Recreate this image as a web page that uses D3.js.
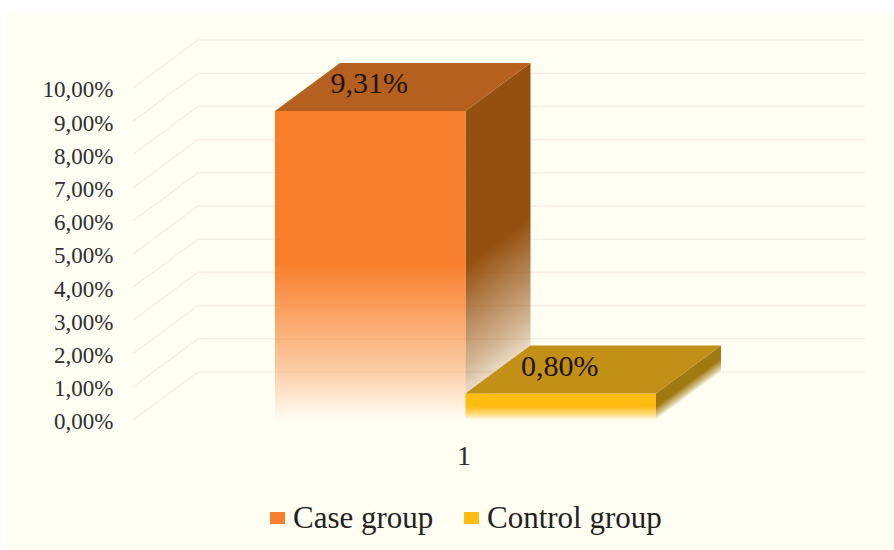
<!DOCTYPE html>
<html>
<head>
<meta charset="utf-8">
<script src="https://cdn.jsdelivr.net/npm/d3@7"></script>
<style>
html, body { margin: 0; padding: 0; background: #fff; }
svg { display: block; font-family: "Liberation Serif", serif; }
</style>
</head>
<body>
<div id="chart"></div>
<script>
var groups = ["Case group", "Control group"];
var percents = [9.31, 0.80];
var valueLabels = ["9,31%", "0,80%"];
var yTicks = [0, 1, 2, 3, 4, 5, 6, 7, 8, 9, 10];
var categoryLabels = ["1"];

var frontColors = ["#f8802d", "#ffbc13"];
var topColors = ["#b5601f", "#c28f17"];
var sideColors = ["#95500f", "#a07a10"];
var gridColors = ["#f4f0e4", "#f8eee2"];

var width = 894, height = 550;
var paper = "#fffef3";
// oblique offset of the back wall from the front plane
var depthX = 65, depthY = -48;

var svg = d3.select("#chart").append("svg")
    .attr("width", width)
    .attr("height", height);

svg.append("rect")
    .attr("x", 5)
    .attr("y", 12)
    .attr("width", width - 5)
    .attr("height", height - 12)
    .attr("fill", paper);

var x = d3.scaleBand().domain(groups).range([275, 656]);
var y = d3.scaleLinear().domain([0, 10]).range([420, 88]);

var defs = svg.append("defs");

// gridlines run along the floor edge and then across the back wall
var grid = svg.append("g");
grid.selectAll("path")
    .data(yTicks)
    .enter().append("path")
    .attr("d", function (d) {
        return d3.line()([[133, y(d)], [133 + depthX, y(d) + depthY], [865, y(d) + depthY]]);
    })
    .attr("fill", "none")
    .attr("stroke", function (d, i) { return gridColors[i % 2]; })
    .attr("stroke-width", 1.6);

// vertical fade: solid over the upper half of the bar, gone at the floor
function fade(id, color, v, xRef, skew) {
    var g = defs.append("linearGradient")
        .attr("id", id)
        .attr("gradientUnits", "userSpaceOnUse")
        .attr("x1", 0).attr("x2", 0)
        .attr("y1", y(v / 2)).attr("y2", y(0));
    if (skew) {
        var k = depthY / depthX;
        g.attr("gradientTransform", "matrix(1," + k + ",0,1,0," + (-k * xRef) + ")");
    }
    g.append("stop").attr("offset", 0).attr("stop-color", color).attr("stop-opacity", 1);
    g.append("stop").attr("offset", 0.65).attr("stop-color", color).attr("stop-opacity", 0.42);
    g.append("stop").attr("offset", 1).attr("stop-color", color).attr("stop-opacity", 0);
}

var bars = svg.selectAll(".bar")
    .data(groups)
    .enter().append("g")
    .attr("class", "bar");

bars.each(function (name, i) {
    var g = d3.select(this);
    var x0 = x(name), x1 = x0 + x.bandwidth();
    var top = y(percents[i]), bottom = y(0);

    fade("front" + i, frontColors[i], percents[i], x0, false);
    fade("side" + i, sideColors[i], percents[i], x1, true);

    g.append("path")
        .attr("d", d3.line()([[x1, top], [x1 + depthX, top + depthY], [x1 + depthX, bottom + depthY], [x1, bottom]]) + "Z")
        .attr("fill", "url(#side" + i + ")");
    g.append("path")
        .attr("d", d3.line()([[x0, top], [x1, top], [x1, bottom], [x0, bottom]]) + "Z")
        .attr("fill", "url(#front" + i + ")");
    g.append("path")
        .attr("d", d3.line()([[x0, top], [x0 + depthX, top + depthY], [x1 + depthX, top + depthY], [x1, top]]) + "Z")
        .attr("fill", topColors[i]);
    g.append("text")
        .attr("x", x0 + x.bandwidth() / 2 - 1)
        .attr("y", top + depthY / 2 + 6.5)
        .attr("text-anchor", "middle")
        .attr("font-size", 30)
        .attr("fill", "#201408")
        .text(valueLabels[i]);
});

var yAxis = d3.axisLeft(y)
    .tickValues(yTicks)
    .tickSize(0)
    .tickPadding(0)
    .tickFormat(function (d) { return d.toFixed(2).replace(".", ",") + "%"; });

svg.append("g")
    .attr("transform", "translate(113.5,1.5)")
    .call(yAxis)
    .call(function (g) { g.select(".domain").remove(); })
    .selectAll("text")
    .attr("font-family", "Liberation Serif, serif")
    .attr("font-size", 23)
    .attr("fill", "#2e2e2e");

svg.append("text")
    .attr("x", 464)
    .attr("y", 465)
    .attr("text-anchor", "middle")
    .attr("font-size", 28)
    .attr("fill", "#2e2e2e")
    .text(categoryLabels[0]);

// legend
var legendX = [270, 464];
var legend = svg.selectAll(".legend")
    .data(groups)
    .enter().append("g")
    .attr("class", "legend")
    .attr("transform", function (d, i) { return "translate(" + legendX[i] + ",512)"; });

legend.append("rect")
    .attr("width", 15)
    .attr("height", 12)
    .attr("fill", function (d, i) { return frontColors[i]; });

legend.append("text")
    .attr("x", 23)
    .attr("y", 16)
    .attr("font-size", 31)
    .attr("fill", "#222")
    .text(function (d) { return d; });
</script>
</body>
</html>
